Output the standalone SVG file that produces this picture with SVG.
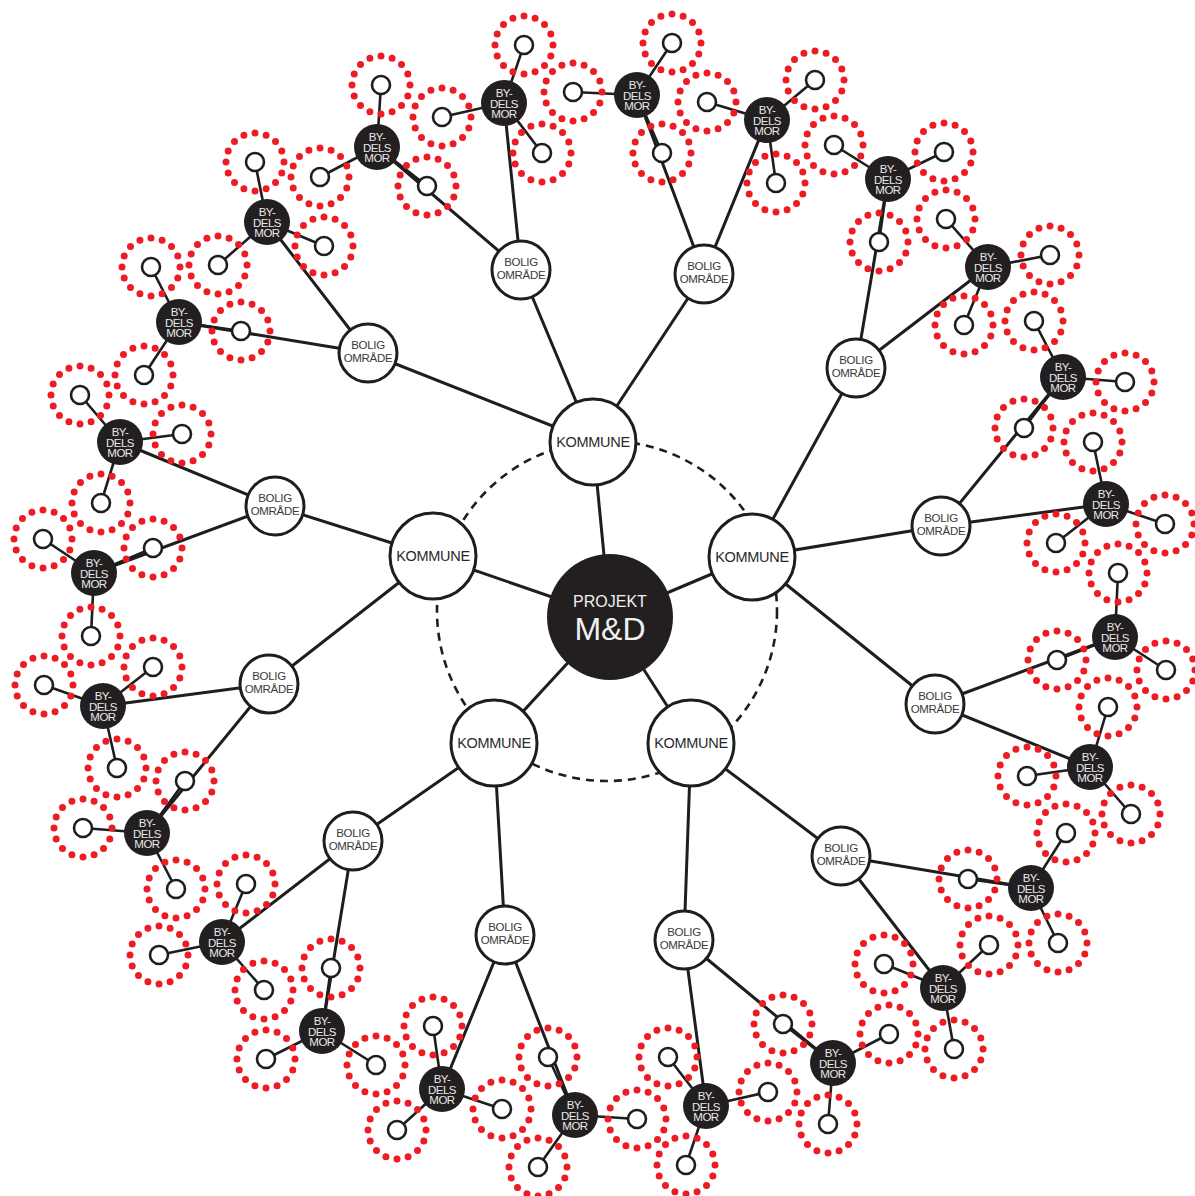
<svg xmlns="http://www.w3.org/2000/svg" width="1195" height="1196" viewBox="0 0 1195 1196">
<style>
.ln{stroke:#1e1e1e;stroke-width:3;fill:none;stroke-linecap:round}
.sl{stroke:#1e1e1e;stroke-width:2.6;fill:none}
.ring{fill:none;stroke:#ed1c24;stroke-width:7;stroke-linecap:round;stroke-dasharray:0 1}
.sat{fill:#fff;stroke:#1e1e1e;stroke-width:2.6}
.bm{fill:#231f20}
.bo{fill:#fff;stroke:#1e1e1e;stroke-width:3}
.ko{fill:#fff;stroke:#1e1e1e;stroke-width:3}
.tbm{font-family:"Liberation Sans",Arial,sans-serif;font-size:11.5px;fill:#e8e8e8;text-anchor:middle;letter-spacing:-0.5px}
.tbo{font-family:"Liberation Sans",Arial,sans-serif;font-size:11.5px;fill:#3a3a3a;text-anchor:middle;letter-spacing:-0.3px}
.tko{font-family:"Liberation Sans",Arial,sans-serif;font-size:14.5px;fill:#2a2a2a;text-anchor:middle;letter-spacing:-0.3px}
.tc{font-family:"Liberation Sans",Arial,sans-serif;fill:#f0f0f0;text-anchor:middle}
</style>
<rect width="1195" height="1196" fill="#fff"/>
<g id="connectors">
<line class="ln" x1="610" y1="617" x2="593" y2="442"/>
<line class="ln" x1="610" y1="617" x2="433" y2="556"/>
<line class="ln" x1="610" y1="617" x2="752" y2="557"/>
<line class="ln" x1="610" y1="617" x2="494" y2="743"/>
<line class="ln" x1="610" y1="617" x2="691" y2="743"/>
<line class="ln" x1="593" y1="442" x2="521" y2="270"/>
<line class="ln" x1="593" y1="442" x2="704" y2="274"/>
<line class="ln" x1="593" y1="442" x2="368" y2="353"/>
<line class="ln" x1="433" y1="556" x2="275" y2="506"/>
<line class="ln" x1="433" y1="556" x2="269" y2="684"/>
<line class="ln" x1="752" y1="557" x2="856" y2="368"/>
<line class="ln" x1="752" y1="557" x2="941" y2="526"/>
<line class="ln" x1="752" y1="557" x2="935" y2="704"/>
<line class="ln" x1="494" y1="743" x2="353" y2="841"/>
<line class="ln" x1="494" y1="743" x2="505" y2="935"/>
<line class="ln" x1="691" y1="743" x2="684" y2="940"/>
<line class="ln" x1="691" y1="743" x2="841" y2="856"/>
<line class="ln" x1="521" y1="270" x2="504" y2="103"/>
<line class="ln" x1="521" y1="270" x2="377" y2="147"/>
<line class="ln" x1="704" y1="274" x2="637" y2="95"/>
<line class="ln" x1="704" y1="274" x2="767" y2="120"/>
<line class="ln" x1="368" y1="353" x2="267" y2="222"/>
<line class="ln" x1="368" y1="353" x2="179" y2="322"/>
<line class="ln" x1="275" y1="506" x2="120" y2="442"/>
<line class="ln" x1="275" y1="506" x2="94" y2="573"/>
<line class="ln" x1="269" y1="684" x2="103" y2="706"/>
<line class="ln" x1="269" y1="684" x2="147" y2="833"/>
<line class="ln" x1="856" y1="368" x2="888" y2="179"/>
<line class="ln" x1="856" y1="368" x2="988" y2="267"/>
<line class="ln" x1="941" y1="526" x2="1063" y2="377"/>
<line class="ln" x1="941" y1="526" x2="1106" y2="504"/>
<line class="ln" x1="935" y1="704" x2="1115" y2="637"/>
<line class="ln" x1="935" y1="704" x2="1090" y2="767"/>
<line class="ln" x1="353" y1="841" x2="222" y2="942"/>
<line class="ln" x1="353" y1="841" x2="322" y2="1031"/>
<line class="ln" x1="505" y1="935" x2="442" y2="1089"/>
<line class="ln" x1="505" y1="935" x2="575" y2="1115"/>
<line class="ln" x1="684" y1="940" x2="706" y2="1106"/>
<line class="ln" x1="684" y1="940" x2="833" y2="1063"/>
<line class="ln" x1="841" y1="856" x2="1031" y2="888"/>
<line class="ln" x1="841" y1="856" x2="943" y2="988"/>
<path class="sl" d="M504 103L524 45M504 103L442 117M504 103L542 153
M377 147L381 85M377 147L320 177M377 147L427 186
M637 95L672 43M637 95L573 92M637 95L662 153
M767 120L707 102M767 120L815 80M767 120L776 183
M267 222L255 162M267 222L218 265M267 222L324 246
M179 322L151 267M179 322L241 331M179 322L144 375
M120 442L80 395M120 442L182 434M120 442L101 503
M94 573L43 539M94 573L153 548M94 573L91 636
M103 706L44 685M103 706L153 667M103 706L117 768
M147 833L185 781M147 833L83 828M147 833L176 889
M888 179L834 145M888 179L944 152M888 179L879 242
M988 267L946 219M988 267L1050 255M988 267L964 325
M1063 377L1034 321M1063 377L1125 382M1063 377L1024 428
M1106 504L1093 442M1106 504L1165 524M1106 504L1056 543
M1115 637L1118 573M1115 637L1057 660M1115 637L1166 670
M1090 767L1108 707M1090 767L1027 776M1090 767L1131 814
M222 942L246 884M222 942L159 955M222 942L264 990
M322 1031L331 968M322 1031L266 1059M322 1031L376 1065
M442 1089L433 1026M442 1089L397 1130M442 1089L502 1109
M575 1115L548 1057M575 1115L637 1119M575 1115L538 1167
M706 1106L668 1057M706 1106L768 1092M706 1106L686 1165
M833 1063L783 1024M833 1063L889 1034M833 1063L828 1124
M1031 888L968 879M1031 888L1066 833M1031 888L1058 943
M943 988L884 964M943 988L989 945M943 988L954 1049"/>
</g>
<circle id="ring-dashed" cx="607" cy="611" r="170" fill="none" stroke="#1e1e1e" stroke-width="2.6" stroke-dasharray="8 6"/>
<g id="bydelsmor-rings">
<circle class="ring" pathLength="16" cx="524" cy="45" r="29"/><circle class="ring" pathLength="16" cx="442" cy="117" r="29"/><circle class="ring" pathLength="16" cx="542" cy="153" r="29"/>
<circle class="ring" pathLength="16" cx="381" cy="85" r="29"/><circle class="ring" pathLength="16" cx="320" cy="177" r="29"/><circle class="ring" pathLength="16" cx="427" cy="186" r="29"/>
<circle class="ring" pathLength="16" cx="672" cy="43" r="29"/><circle class="ring" pathLength="16" cx="573" cy="92" r="29"/><circle class="ring" pathLength="16" cx="662" cy="153" r="29"/>
<circle class="ring" pathLength="16" cx="707" cy="102" r="29"/><circle class="ring" pathLength="16" cx="815" cy="80" r="29"/><circle class="ring" pathLength="16" cx="776" cy="183" r="29"/>
<circle class="ring" pathLength="16" cx="255" cy="162" r="29"/><circle class="ring" pathLength="16" cx="218" cy="265" r="29"/><circle class="ring" pathLength="16" cx="324" cy="246" r="29"/>
<circle class="ring" pathLength="16" cx="151" cy="267" r="29"/><circle class="ring" pathLength="16" cx="241" cy="331" r="29"/><circle class="ring" pathLength="16" cx="144" cy="375" r="29"/>
<circle class="ring" pathLength="16" cx="80" cy="395" r="29"/><circle class="ring" pathLength="16" cx="182" cy="434" r="29"/><circle class="ring" pathLength="16" cx="101" cy="503" r="29"/>
<circle class="ring" pathLength="16" cx="43" cy="539" r="29"/><circle class="ring" pathLength="16" cx="153" cy="548" r="29"/><circle class="ring" pathLength="16" cx="91" cy="636" r="29"/>
<circle class="ring" pathLength="16" cx="44" cy="685" r="29"/><circle class="ring" pathLength="16" cx="153" cy="667" r="29"/><circle class="ring" pathLength="16" cx="117" cy="768" r="29"/>
<circle class="ring" pathLength="16" cx="185" cy="781" r="29"/><circle class="ring" pathLength="16" cx="83" cy="828" r="29"/><circle class="ring" pathLength="16" cx="176" cy="889" r="29"/>
<circle class="ring" pathLength="16" cx="834" cy="145" r="29"/><circle class="ring" pathLength="16" cx="944" cy="152" r="29"/><circle class="ring" pathLength="16" cx="879" cy="242" r="29"/>
<circle class="ring" pathLength="16" cx="946" cy="219" r="29"/><circle class="ring" pathLength="16" cx="1050" cy="255" r="29"/><circle class="ring" pathLength="16" cx="964" cy="325" r="29"/>
<circle class="ring" pathLength="16" cx="1034" cy="321" r="29"/><circle class="ring" pathLength="16" cx="1125" cy="382" r="29"/><circle class="ring" pathLength="16" cx="1024" cy="428" r="29"/>
<circle class="ring" pathLength="16" cx="1093" cy="442" r="29"/><circle class="ring" pathLength="16" cx="1165" cy="524" r="29"/><circle class="ring" pathLength="16" cx="1056" cy="543" r="29"/>
<circle class="ring" pathLength="16" cx="1118" cy="573" r="29"/><circle class="ring" pathLength="16" cx="1057" cy="660" r="29"/><circle class="ring" pathLength="16" cx="1166" cy="670" r="29"/>
<circle class="ring" pathLength="16" cx="1108" cy="707" r="29"/><circle class="ring" pathLength="16" cx="1027" cy="776" r="29"/><circle class="ring" pathLength="16" cx="1131" cy="814" r="29"/>
<circle class="ring" pathLength="16" cx="246" cy="884" r="29"/><circle class="ring" pathLength="16" cx="159" cy="955" r="29"/><circle class="ring" pathLength="16" cx="264" cy="990" r="29"/>
<circle class="ring" pathLength="16" cx="331" cy="968" r="29"/><circle class="ring" pathLength="16" cx="266" cy="1059" r="29"/><circle class="ring" pathLength="16" cx="376" cy="1065" r="29"/>
<circle class="ring" pathLength="16" cx="433" cy="1026" r="29"/><circle class="ring" pathLength="16" cx="397" cy="1130" r="29"/><circle class="ring" pathLength="16" cx="502" cy="1109" r="29"/>
<circle class="ring" pathLength="16" cx="548" cy="1057" r="29"/><circle class="ring" pathLength="16" cx="637" cy="1119" r="29"/><circle class="ring" pathLength="16" cx="538" cy="1167" r="29"/>
<circle class="ring" pathLength="16" cx="668" cy="1057" r="29"/><circle class="ring" pathLength="16" cx="768" cy="1092" r="29"/><circle class="ring" pathLength="16" cx="686" cy="1165" r="29"/>
<circle class="ring" pathLength="16" cx="783" cy="1024" r="29"/><circle class="ring" pathLength="16" cx="889" cy="1034" r="29"/><circle class="ring" pathLength="16" cx="828" cy="1124" r="29"/>
<circle class="ring" pathLength="16" cx="968" cy="879" r="29"/><circle class="ring" pathLength="16" cx="1066" cy="833" r="29"/><circle class="ring" pathLength="16" cx="1058" cy="943" r="29"/>
<circle class="ring" pathLength="16" cx="884" cy="964" r="29"/><circle class="ring" pathLength="16" cx="989" cy="945" r="29"/><circle class="ring" pathLength="16" cx="954" cy="1049" r="29"/>
</g>
<g id="satellites">
<circle class="sat" cx="524" cy="45" r="9"/><circle class="sat" cx="442" cy="117" r="9"/><circle class="sat" cx="542" cy="153" r="9"/>
<circle class="sat" cx="381" cy="85" r="9"/><circle class="sat" cx="320" cy="177" r="9"/><circle class="sat" cx="427" cy="186" r="9"/>
<circle class="sat" cx="672" cy="43" r="9"/><circle class="sat" cx="573" cy="92" r="9"/><circle class="sat" cx="662" cy="153" r="9"/>
<circle class="sat" cx="707" cy="102" r="9"/><circle class="sat" cx="815" cy="80" r="9"/><circle class="sat" cx="776" cy="183" r="9"/>
<circle class="sat" cx="255" cy="162" r="9"/><circle class="sat" cx="218" cy="265" r="9"/><circle class="sat" cx="324" cy="246" r="9"/>
<circle class="sat" cx="151" cy="267" r="9"/><circle class="sat" cx="241" cy="331" r="9"/><circle class="sat" cx="144" cy="375" r="9"/>
<circle class="sat" cx="80" cy="395" r="9"/><circle class="sat" cx="182" cy="434" r="9"/><circle class="sat" cx="101" cy="503" r="9"/>
<circle class="sat" cx="43" cy="539" r="9"/><circle class="sat" cx="153" cy="548" r="9"/><circle class="sat" cx="91" cy="636" r="9"/>
<circle class="sat" cx="44" cy="685" r="9"/><circle class="sat" cx="153" cy="667" r="9"/><circle class="sat" cx="117" cy="768" r="9"/>
<circle class="sat" cx="185" cy="781" r="9"/><circle class="sat" cx="83" cy="828" r="9"/><circle class="sat" cx="176" cy="889" r="9"/>
<circle class="sat" cx="834" cy="145" r="9"/><circle class="sat" cx="944" cy="152" r="9"/><circle class="sat" cx="879" cy="242" r="9"/>
<circle class="sat" cx="946" cy="219" r="9"/><circle class="sat" cx="1050" cy="255" r="9"/><circle class="sat" cx="964" cy="325" r="9"/>
<circle class="sat" cx="1034" cy="321" r="9"/><circle class="sat" cx="1125" cy="382" r="9"/><circle class="sat" cx="1024" cy="428" r="9"/>
<circle class="sat" cx="1093" cy="442" r="9"/><circle class="sat" cx="1165" cy="524" r="9"/><circle class="sat" cx="1056" cy="543" r="9"/>
<circle class="sat" cx="1118" cy="573" r="9"/><circle class="sat" cx="1057" cy="660" r="9"/><circle class="sat" cx="1166" cy="670" r="9"/>
<circle class="sat" cx="1108" cy="707" r="9"/><circle class="sat" cx="1027" cy="776" r="9"/><circle class="sat" cx="1131" cy="814" r="9"/>
<circle class="sat" cx="246" cy="884" r="9"/><circle class="sat" cx="159" cy="955" r="9"/><circle class="sat" cx="264" cy="990" r="9"/>
<circle class="sat" cx="331" cy="968" r="9"/><circle class="sat" cx="266" cy="1059" r="9"/><circle class="sat" cx="376" cy="1065" r="9"/>
<circle class="sat" cx="433" cy="1026" r="9"/><circle class="sat" cx="397" cy="1130" r="9"/><circle class="sat" cx="502" cy="1109" r="9"/>
<circle class="sat" cx="548" cy="1057" r="9"/><circle class="sat" cx="637" cy="1119" r="9"/><circle class="sat" cx="538" cy="1167" r="9"/>
<circle class="sat" cx="668" cy="1057" r="9"/><circle class="sat" cx="768" cy="1092" r="9"/><circle class="sat" cx="686" cy="1165" r="9"/>
<circle class="sat" cx="783" cy="1024" r="9"/><circle class="sat" cx="889" cy="1034" r="9"/><circle class="sat" cx="828" cy="1124" r="9"/>
<circle class="sat" cx="968" cy="879" r="9"/><circle class="sat" cx="1066" cy="833" r="9"/><circle class="sat" cx="1058" cy="943" r="9"/>
<circle class="sat" cx="884" cy="964" r="9"/><circle class="sat" cx="989" cy="945" r="9"/><circle class="sat" cx="954" cy="1049" r="9"/>
</g>
<g id="center"><circle cx="610" cy="617" r="63" fill="#231f20"/><text class="tc" x="610" y="607" font-size="16">PROJEKT</text><text class="tc" x="610" y="640" font-size="32">M&amp;D</text></g>
<g id="kommune-1"><circle class="ko" cx="593" cy="442" r="43"/><text class="tko" x="593" y="447">KOMMUNE</text></g>
<g id="kommune-2"><circle class="ko" cx="433" cy="556" r="43"/><text class="tko" x="433" y="561">KOMMUNE</text></g>
<g id="kommune-3"><circle class="ko" cx="752" cy="557" r="43"/><text class="tko" x="752" y="562">KOMMUNE</text></g>
<g id="kommune-4"><circle class="ko" cx="494" cy="743" r="43"/><text class="tko" x="494" y="748">KOMMUNE</text></g>
<g id="kommune-5"><circle class="ko" cx="691" cy="743" r="43"/><text class="tko" x="691" y="748">KOMMUNE</text></g>
<g id="bolig-1"><circle class="bo" cx="521" cy="270" r="29"/><text class="tbo" x="521" y="266">BOLIG</text><text class="tbo" x="521" y="279">OMRÅDE</text></g>
<g id="bolig-2"><circle class="bo" cx="704" cy="274" r="29"/><text class="tbo" x="704" y="270">BOLIG</text><text class="tbo" x="704" y="283">OMRÅDE</text></g>
<g id="bolig-3"><circle class="bo" cx="368" cy="353" r="29"/><text class="tbo" x="368" y="349">BOLIG</text><text class="tbo" x="368" y="362">OMRÅDE</text></g>
<g id="bolig-4"><circle class="bo" cx="275" cy="506" r="29"/><text class="tbo" x="275" y="502">BOLIG</text><text class="tbo" x="275" y="515">OMRÅDE</text></g>
<g id="bolig-5"><circle class="bo" cx="269" cy="684" r="29"/><text class="tbo" x="269" y="680">BOLIG</text><text class="tbo" x="269" y="693">OMRÅDE</text></g>
<g id="bolig-6"><circle class="bo" cx="856" cy="368" r="29"/><text class="tbo" x="856" y="364">BOLIG</text><text class="tbo" x="856" y="377">OMRÅDE</text></g>
<g id="bolig-7"><circle class="bo" cx="941" cy="526" r="29"/><text class="tbo" x="941" y="522">BOLIG</text><text class="tbo" x="941" y="535">OMRÅDE</text></g>
<g id="bolig-8"><circle class="bo" cx="935" cy="704" r="29"/><text class="tbo" x="935" y="700">BOLIG</text><text class="tbo" x="935" y="713">OMRÅDE</text></g>
<g id="bolig-9"><circle class="bo" cx="353" cy="841" r="29"/><text class="tbo" x="353" y="837">BOLIG</text><text class="tbo" x="353" y="850">OMRÅDE</text></g>
<g id="bolig-10"><circle class="bo" cx="505" cy="935" r="29"/><text class="tbo" x="505" y="931">BOLIG</text><text class="tbo" x="505" y="944">OMRÅDE</text></g>
<g id="bolig-11"><circle class="bo" cx="684" cy="940" r="29"/><text class="tbo" x="684" y="936">BOLIG</text><text class="tbo" x="684" y="949">OMRÅDE</text></g>
<g id="bolig-12"><circle class="bo" cx="841" cy="856" r="29"/><text class="tbo" x="841" y="852">BOLIG</text><text class="tbo" x="841" y="865">OMRÅDE</text></g>
<g id="bm-1"><circle class="bm" cx="504" cy="103" r="23"/><text class="tbm" x="504" y="97">BY-</text><text class="tbm" x="504" y="107.5">DELS</text><text class="tbm" x="504" y="118">MOR</text></g>
<g id="bm-2"><circle class="bm" cx="377" cy="147" r="23"/><text class="tbm" x="377" y="141">BY-</text><text class="tbm" x="377" y="151.5">DELS</text><text class="tbm" x="377" y="162">MOR</text></g>
<g id="bm-3"><circle class="bm" cx="637" cy="95" r="23"/><text class="tbm" x="637" y="89">BY-</text><text class="tbm" x="637" y="99.5">DELS</text><text class="tbm" x="637" y="110">MOR</text></g>
<g id="bm-4"><circle class="bm" cx="767" cy="120" r="23"/><text class="tbm" x="767" y="114">BY-</text><text class="tbm" x="767" y="124.5">DELS</text><text class="tbm" x="767" y="135">MOR</text></g>
<g id="bm-5"><circle class="bm" cx="267" cy="222" r="23"/><text class="tbm" x="267" y="216">BY-</text><text class="tbm" x="267" y="226.5">DELS</text><text class="tbm" x="267" y="237">MOR</text></g>
<g id="bm-6"><circle class="bm" cx="179" cy="322" r="23"/><text class="tbm" x="179" y="316">BY-</text><text class="tbm" x="179" y="326.5">DELS</text><text class="tbm" x="179" y="337">MOR</text></g>
<g id="bm-7"><circle class="bm" cx="120" cy="442" r="23"/><text class="tbm" x="120" y="436">BY-</text><text class="tbm" x="120" y="446.5">DELS</text><text class="tbm" x="120" y="457">MOR</text></g>
<g id="bm-8"><circle class="bm" cx="94" cy="573" r="23"/><text class="tbm" x="94" y="567">BY-</text><text class="tbm" x="94" y="577.5">DELS</text><text class="tbm" x="94" y="588">MOR</text></g>
<g id="bm-9"><circle class="bm" cx="103" cy="706" r="23"/><text class="tbm" x="103" y="700">BY-</text><text class="tbm" x="103" y="710.5">DELS</text><text class="tbm" x="103" y="721">MOR</text></g>
<g id="bm-10"><circle class="bm" cx="147" cy="833" r="23"/><text class="tbm" x="147" y="827">BY-</text><text class="tbm" x="147" y="837.5">DELS</text><text class="tbm" x="147" y="848">MOR</text></g>
<g id="bm-11"><circle class="bm" cx="888" cy="179" r="23"/><text class="tbm" x="888" y="173">BY-</text><text class="tbm" x="888" y="183.5">DELS</text><text class="tbm" x="888" y="194">MOR</text></g>
<g id="bm-12"><circle class="bm" cx="988" cy="267" r="23"/><text class="tbm" x="988" y="261">BY-</text><text class="tbm" x="988" y="271.5">DELS</text><text class="tbm" x="988" y="282">MOR</text></g>
<g id="bm-13"><circle class="bm" cx="1063" cy="377" r="23"/><text class="tbm" x="1063" y="371">BY-</text><text class="tbm" x="1063" y="381.5">DELS</text><text class="tbm" x="1063" y="392">MOR</text></g>
<g id="bm-14"><circle class="bm" cx="1106" cy="504" r="23"/><text class="tbm" x="1106" y="498">BY-</text><text class="tbm" x="1106" y="508.5">DELS</text><text class="tbm" x="1106" y="519">MOR</text></g>
<g id="bm-15"><circle class="bm" cx="1115" cy="637" r="23"/><text class="tbm" x="1115" y="631">BY-</text><text class="tbm" x="1115" y="641.5">DELS</text><text class="tbm" x="1115" y="652">MOR</text></g>
<g id="bm-16"><circle class="bm" cx="1090" cy="767" r="23"/><text class="tbm" x="1090" y="761">BY-</text><text class="tbm" x="1090" y="771.5">DELS</text><text class="tbm" x="1090" y="782">MOR</text></g>
<g id="bm-17"><circle class="bm" cx="222" cy="942" r="23"/><text class="tbm" x="222" y="936">BY-</text><text class="tbm" x="222" y="946.5">DELS</text><text class="tbm" x="222" y="957">MOR</text></g>
<g id="bm-18"><circle class="bm" cx="322" cy="1031" r="23"/><text class="tbm" x="322" y="1025">BY-</text><text class="tbm" x="322" y="1035.5">DELS</text><text class="tbm" x="322" y="1046">MOR</text></g>
<g id="bm-19"><circle class="bm" cx="442" cy="1089" r="23"/><text class="tbm" x="442" y="1083">BY-</text><text class="tbm" x="442" y="1093.5">DELS</text><text class="tbm" x="442" y="1104">MOR</text></g>
<g id="bm-20"><circle class="bm" cx="575" cy="1115" r="23"/><text class="tbm" x="575" y="1109">BY-</text><text class="tbm" x="575" y="1119.5">DELS</text><text class="tbm" x="575" y="1130">MOR</text></g>
<g id="bm-21"><circle class="bm" cx="706" cy="1106" r="23"/><text class="tbm" x="706" y="1100">BY-</text><text class="tbm" x="706" y="1110.5">DELS</text><text class="tbm" x="706" y="1121">MOR</text></g>
<g id="bm-22"><circle class="bm" cx="833" cy="1063" r="23"/><text class="tbm" x="833" y="1057">BY-</text><text class="tbm" x="833" y="1067.5">DELS</text><text class="tbm" x="833" y="1078">MOR</text></g>
<g id="bm-23"><circle class="bm" cx="1031" cy="888" r="23"/><text class="tbm" x="1031" y="882">BY-</text><text class="tbm" x="1031" y="892.5">DELS</text><text class="tbm" x="1031" y="903">MOR</text></g>
<g id="bm-24"><circle class="bm" cx="943" cy="988" r="23"/><text class="tbm" x="943" y="982">BY-</text><text class="tbm" x="943" y="992.5">DELS</text><text class="tbm" x="943" y="1003">MOR</text></g>
</svg>
